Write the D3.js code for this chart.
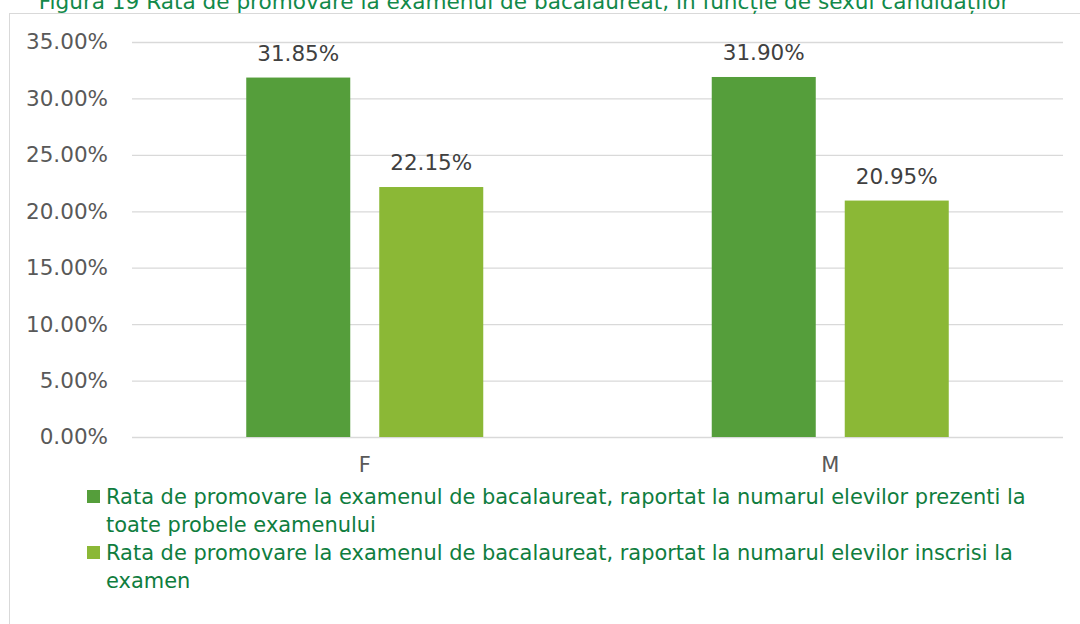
<!DOCTYPE html>
<html>
<head>
<meta charset="utf-8">
<script src="https://cdn.jsdelivr.net/npm/d3@7/dist/d3.min.js"></script>
<style>
  html, body { margin: 0; padding: 0; background: #ffffff; }
  svg { display: block; }
</style>
</head>
<body>
<svg id="chart" width="1080" height="624"></svg>
<script>
const titleText = "Figura 19 Rata de promovare la examenul de bacalaureat, în funcție de sexul candidaților";
const categories = ["F", "M"];
const seriesNames = [
  "Rata de promovare la examenul de bacalaureat, raportat la numarul elevilor prezenti la toate probele examenului",
  "Rata de promovare la examenul de bacalaureat, raportat la numarul elevilor inscrisi la examen"
];
const legendLines = [
  ["Rata de promovare la examenul de bacalaureat, raportat la numarul elevilor prezenti la", "toate probele examenului"],
  ["Rata de promovare la examenul de bacalaureat, raportat la numarul elevilor inscrisi la", "examen"]
];
const seriesPrezenti = [0.3185, 0.3190];
const seriesInscrisi = [0.2215, 0.2095];
const yTicks = [0, 0.05, 0.10, 0.15, 0.20, 0.25, 0.30, 0.35];
const colors = ["#559E3B", "#8BB836"];

(function () {
const svg = d3.select("#chart");
const font = "'DejaVu Sans', Verdana, sans-serif";

svg.append("rect").attr("x", 9.5).attr("y", 13.5).attr("width", 1080).attr("height", 620)
  .attr("fill", "#ffffff").attr("stroke", "#d9d9d9").attr("stroke-width", 1);

svg.append("text").attr("x", 524).attr("y", 9).attr("text-anchor", "middle")
  .attr("font-family", font).attr("font-size", 21.6).attr("fill", "#12894A").text(titleText);

const pl = 132, pr = 1063, pt = 42, pb = 437;
const y = d3.scaleLinear().domain([0, 0.35]).range([pb, pt]);
const x0 = d3.scaleBand().domain(categories).range([pl, pr]).paddingInner(0).paddingOuter(0);
const x1 = d3.scaleBand().domain([0, 1]).range([0, x0.bandwidth()]).paddingInner(0.218).paddingOuter(0.859);

const yAxis = d3.axisLeft(y).tickValues(yTicks).tickSize(-(pr - pl)).tickFormat(d => d3.format(".2f")(d * 100) + "%").tickPadding(24);
const gY = svg.append("g").attr("transform", `translate(${pl},0)`).call(yAxis);
gY.select(".domain").remove();
gY.selectAll(".tick line").attr("stroke", "#d9d9d9").attr("stroke-width", 1.3);
gY.selectAll(".tick text").attr("font-family", font).attr("font-size", 21.5).attr("fill", "#595959");

const data = categories.map((c, i) => ({ cat: c, vals: [seriesPrezenti[i], seriesInscrisi[i]] }));
const groups = svg.append("g").selectAll("g").data(data).join("g")
  .attr("transform", d => `translate(${x0(d.cat)},0)`);
groups.selectAll("rect").data(d => d.vals.map((v, k) => ({ v, k }))).join("rect")
  .attr("x", d => x1(d.k)).attr("width", x1.bandwidth())
  .attr("y", d => y(d.v)).attr("height", d => y(0) - y(d.v))
  .attr("fill", d => colors[d.k]);
groups.selectAll("text.val").data(d => d.vals.map((v, k) => ({ v, k }))).join("text")
  .attr("class", "val")
  .attr("x", d => x1(d.k) + x1.bandwidth() / 2).attr("y", d => y(d.v) - 17)
  .attr("text-anchor", "middle").attr("font-family", font).attr("font-size", 21.5).attr("fill", "#404040")
  .text(d => d3.format(".2f")(d.v * 100) + "%");

const xAxis = d3.axisBottom(x0).tickSize(0).tickPadding(20);
const gX = svg.append("g").attr("transform", `translate(0,${pb})`).call(xAxis);
gX.select(".domain").remove();
gX.selectAll(".tick text").attr("font-family", font).attr("font-size", 21).attr("fill", "#595959");

const legend = svg.append("g");
legendLines.forEach((lines, k) => {
  const baseY = 497 + k * 56;
  legend.append("rect").attr("x", 87).attr("y", baseY - 7).attr("width", 13).attr("height", 13).attr("fill", colors[k]);
  lines.forEach((ln, j) => {
    legend.append("text").attr("x", 106).attr("y", baseY + 7 + j * 28)
      .attr("font-family", font).attr("font-size", 20.95).attr("fill", "#0F7D3E").text(ln);
  });
});
})();
</script>
</body>
</html>
